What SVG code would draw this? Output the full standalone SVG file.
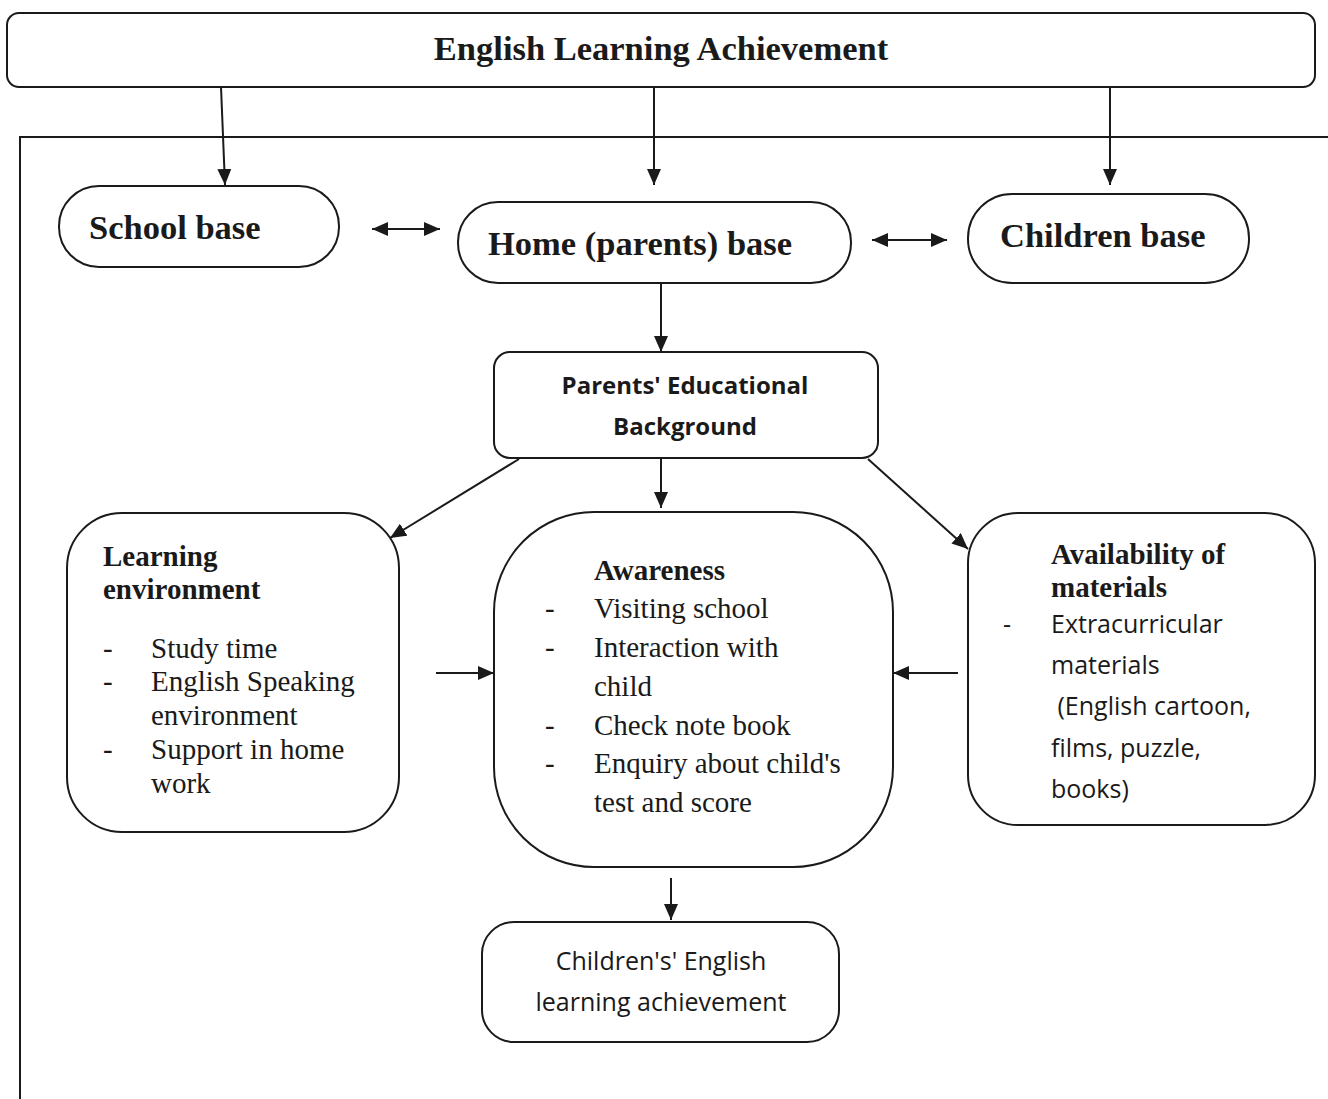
<svg xmlns="http://www.w3.org/2000/svg" width="1328" height="1099" viewBox="0 0 1328 1099">
<defs>
<marker id="ah" viewBox="0 0 16 14" refX="16" refY="7" markerWidth="16" markerHeight="14" markerUnits="userSpaceOnUse" orient="auto-start-reverse">
<path d="M0,0 L16,7 L0,14 Z" fill="#1a1a1a"/>
</marker>
</defs>
<style>
.box{fill:#fff;stroke:#1a1a1a;stroke-width:2}
.con{stroke:#1a1a1a;stroke-width:2;fill:none}
.tb{font-family:"Liberation Serif",serif;font-weight:bold;fill:#1a1a1a}
.tr{font-family:"Liberation Serif",serif;fill:#1a1a1a;font-size:29px}
.cs{font-family:"Open Sans",sans-serif;fill:#1a1a1a}
</style>
<rect width="1328" height="1099" fill="#fff"/>
<g id="frame">
<path class="con" d="M20,1099 L20,137 L1328,137"/>
</g>
<g id="top">
<rect class="box" x="7" y="13" width="1308" height="74" rx="12"/>
<text class="tb" x="661" y="60" font-size="34.5" text-anchor="middle">English Learning Achievement</text>
</g>
<g id="school">
<rect class="box" x="59" y="186" width="280" height="81" rx="40"/>
<text class="tb" x="89" y="239" font-size="34.5">School base</text>
</g>
<g id="home">
<rect class="box" x="458" y="202" width="393" height="81" rx="40"/>
<text class="tb" x="488" y="255" font-size="34.5">Home (parents) base</text>
</g>
<g id="children">
<rect class="box" x="968" y="194" width="281" height="89" rx="44"/>
<text class="tb" x="1000" y="247" font-size="34.5">Children base</text>
</g>
<g id="peb">
<rect class="box" x="494" y="352" width="384" height="106" rx="16"/>
<text class="cs" x="685" y="394" font-size="24" font-weight="bold" text-anchor="middle">Parents' Educational</text>
<text class="cs" x="685" y="435" font-size="24" font-weight="bold" text-anchor="middle">Background</text>
</g>
<g id="learning">
<rect class="box" x="67" y="513" width="332" height="319" rx="55"/>
<text class="tb" x="103" y="566" font-size="29">Learning</text>
<text class="tb" x="103" y="599" font-size="29">environment</text>
<text class="tr" x="103" y="658">-</text><text class="tr" x="151" y="658">Study time</text>
<text class="tr" x="103" y="691">-</text><text class="tr" x="151" y="691">English Speaking</text>
<text class="tr" x="151" y="725">environment</text>
<text class="tr" x="103" y="759">-</text><text class="tr" x="151" y="759">Support in home</text>
<text class="tr" x="151" y="793">work</text>
</g>
<g id="awareness">
<rect class="box" x="494" y="512" width="399" height="355" rx="100"/>
<text class="tb" x="594" y="580" font-size="29">Awareness</text>
<text class="tr" x="545" y="618">-</text><text class="tr" x="594" y="618">Visiting school</text>
<text class="tr" x="545" y="657">-</text><text class="tr" x="594" y="657">Interaction with</text>
<text class="tr" x="594" y="696">child</text>
<text class="tr" x="545" y="735">-</text><text class="tr" x="594" y="735">Check note book</text>
<text class="tr" x="545" y="773">-</text><text class="tr" x="594" y="773">Enquiry about child's</text>
<text class="tr" x="594" y="812">test and score</text>
</g>
<g id="availability">
<rect class="box" x="968" y="513" width="347" height="312" rx="50"/>
<text class="tb" x="1051" y="564" font-size="29">Availability of</text>
<text class="tb" x="1051" y="597" font-size="29">materials</text>
<text class="cs" x="1003" y="633" font-size="25">-</text>
<text class="cs" x="1051" y="633" font-size="25">Extracurricular</text>
<text class="cs" x="1051" y="674" font-size="25">materials</text>
<text class="cs" x="1051" y="715" font-size="25" xml:space="preserve"> (English cartoon,</text>
<text class="cs" x="1051" y="757" font-size="25">films, puzzle,</text>
<text class="cs" x="1051" y="798" font-size="25">books)</text>
</g>
<g id="result">
<rect class="box" x="482" y="922" width="357" height="120" rx="32"/>
<text class="cs" x="661" y="970" font-size="25" text-anchor="middle">Children's' English</text>
<text class="cs" x="661" y="1011" font-size="25" text-anchor="middle">learning achievement</text>
</g>
<g id="connectors">
<line class="con" x1="221" y1="87" x2="225" y2="185" marker-end="url(#ah)"/>
<line class="con" x1="654" y1="87" x2="654" y2="185" marker-end="url(#ah)"/>
<line class="con" x1="1110" y1="87" x2="1110" y2="185" marker-end="url(#ah)"/>
<line class="con" x1="372" y1="229" x2="440" y2="229" marker-start="url(#ah)" marker-end="url(#ah)"/>
<line class="con" x1="872" y1="240" x2="947" y2="240" marker-start="url(#ah)" marker-end="url(#ah)"/>
<line class="con" x1="661" y1="283" x2="661" y2="352" marker-end="url(#ah)"/>
<line class="con" x1="519" y1="459" x2="390" y2="538" marker-end="url(#ah)"/>
<line class="con" x1="661" y1="459" x2="661" y2="508" marker-end="url(#ah)"/>
<line class="con" x1="868" y1="459" x2="968" y2="549" marker-end="url(#ah)"/>
<line class="con" x1="436" y1="673" x2="494" y2="673" marker-end="url(#ah)"/>
<line class="con" x1="958" y1="673" x2="893" y2="673" marker-end="url(#ah)"/>
<line class="con" x1="671" y1="878" x2="671" y2="920" marker-end="url(#ah)"/>
</g>
</svg>
